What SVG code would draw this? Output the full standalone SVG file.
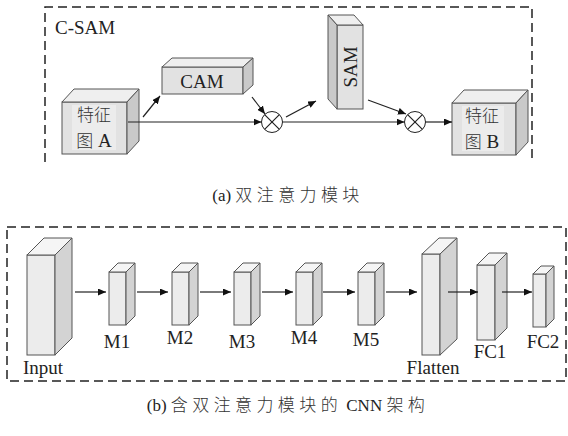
<svg xmlns="http://www.w3.org/2000/svg" width="568" height="436" viewBox="0 0 568 436">
<style>
.dash{fill:none;stroke:#222;stroke-width:1.5;stroke-dasharray:9 5}
.fa{fill:#e2e2e2;stroke:#555;stroke-width:1}
.ta{fill:#efefef;stroke:#555;stroke-width:1}
.sa{fill:#c9c9c9;stroke:#555;stroke-width:1}
.fb{fill:#ececec;stroke:#555;stroke-width:1}
.tb{fill:#f5f5f5;stroke:#555;stroke-width:1}
.sb{fill:#d3d3d3;stroke:#555;stroke-width:1}
.lbl{font-family:"Liberation Serif","Times New Roman",serif;font-size:19px;fill:#222}
.cjk{font-family:"Noto Sans CJK SC","Noto Sans",sans-serif;font-size:17px;font-weight:300;fill:#333}
.cap{font-family:"Liberation Serif",serif;font-size:17px;fill:#222}
.ln{fill:none;stroke:#222;stroke-width:1.2}
.op{fill:#fff;stroke:#222;stroke-width:1}
</style>
<defs>
<marker id="ah" markerUnits="userSpaceOnUse" markerWidth="8" markerHeight="7" refX="8" refY="3.5" orient="auto">
<path d="M0,0 L8,3.5 L0,7 z" fill="#111"/>
</marker>
</defs>

<!-- (a) -->
<path class="dash" d="M45,162 V7 H532 V162"/>
<text class="lbl" x="55" y="34">C-SAM</text>

<g id="featA">
<rect class="fa" x="62" y="102" width="65" height="52"/>
<polygon class="ta" points="62,102 74,89 139,89 127,102"/>
<polygon class="sa" points="127,102 139,89 139,141 127,154"/>
<rect x="72" y="105" width="44" height="45" fill="#ececec"/>
<text class="cjk" x="94" y="121" text-anchor="middle" font-size="18">特征</text>
<text x="94" y="147" text-anchor="middle"><tspan class="cjk" font-size="18">图</tspan><tspan class="lbl"> A</tspan></text>
</g>

<g id="cam">
<rect class="fa" x="162" y="67" width="81" height="27"/>
<polygon class="ta" points="162,67 172,58 253,58 243,67"/>
<polygon class="sa" points="243,67 253,58 253,85 243,94"/>
<text class="lbl" x="202" y="88" text-anchor="middle">CAM</text>
</g>

<g id="sam">
<rect class="fa" x="337" y="25" width="26" height="84" fill="#e8e8e8"/>
<polygon class="ta" points="337,25 328,15 354,15 363,25"/>
<polygon class="sa" points="337,25 328,15 328,99 337,109" fill="#efefef"/>
<text class="lbl" transform="translate(357,67) rotate(-90)" text-anchor="middle">SAM</text>
</g>

<g id="mul1">
<circle class="op" cx="272" cy="122" r="10.5"/>
<path class="ln" stroke-width="0.9" d="M264.6,114.6 L279.4,129.4 M279.4,114.6 L264.6,129.4"/>
</g>
<g id="mul2">
<circle class="op" cx="415" cy="122" r="10.5"/>
<path class="ln" stroke-width="0.9" d="M407.6,114.6 L422.4,129.4 M422.4,114.6 L407.6,129.4"/>
</g>

<g id="featB">
<rect class="fa" x="452" y="103" width="64" height="52"/>
<polygon class="ta" points="452,103 464,90 528,90 516,103"/>
<polygon class="sa" points="516,103 528,90 528,142 516,155"/>
<rect x="462" y="106" width="42" height="45" fill="#ececec"/>
<text class="cjk" x="482" y="122" text-anchor="middle" font-size="18">特征</text>
<text x="482" y="148" text-anchor="middle"><tspan class="cjk" font-size="18">图</tspan><tspan class="lbl"> B</tspan></text>
</g>

<g id="connectors-a">
<line class="ln" x1="128" y1="122" x2="261.5" y2="122" marker-end="url(#ah)"/>
<line class="ln" x1="143" y1="117" x2="160" y2="96" marker-end="url(#ah)"/>
<line class="ln" x1="252" y1="97" x2="265" y2="114" marker-end="url(#ah)"/>
<line class="ln" x1="282.5" y1="122" x2="404.5" y2="122" marker-end="url(#ah)"/>
<line class="ln" x1="286" y1="117" x2="316" y2="101" marker-end="url(#ah)"/>
<line class="ln" x1="368" y1="100" x2="406" y2="114" marker-end="url(#ah)"/>
<line class="ln" x1="425.5" y1="122" x2="452" y2="122" marker-end="url(#ah)"/>
</g>

<text x="288" y="201" text-anchor="middle"><tspan class="cap">(a) </tspan><tspan class="cjk" letter-spacing="4.4">双注意力模块</tspan></text>

<!-- (b) -->
<rect class="dash" x="7" y="227" width="559" height="154"/>

<g id="input">
<rect class="fb" x="27" y="255" width="28" height="100"/>
<polygon class="tb" points="27,255 44,238 72,238 55,255"/>
<polygon class="sb" points="55,255 72,238 72,338 55,355"/>
<text class="lbl" x="43" y="374" text-anchor="middle">Input</text>
</g>

<g id="m1">
<rect class="fb" x="109" y="272" width="17" height="53"/>
<polygon class="tb" points="109,272 118,263 135,263 126,272"/>
<polygon class="sb" points="126,272 135,263 135,316 126,325"/>
<text class="lbl" x="117" y="348" text-anchor="middle">M1</text>
</g>
<g id="m2">
<rect class="fb" x="172" y="272" width="17" height="53"/>
<polygon class="tb" points="172,272 181,263 198,263 189,272"/>
<polygon class="sb" points="189,272 198,263 198,316 189,325"/>
<text class="lbl" x="180" y="344" text-anchor="middle">M2</text>
</g>
<g id="m3">
<rect class="fb" x="234" y="272" width="17" height="53"/>
<polygon class="tb" points="234,272 243,263 260,263 251,272"/>
<polygon class="sb" points="251,272 260,263 260,316 251,325"/>
<text class="lbl" x="242" y="348" text-anchor="middle">M3</text>
</g>
<g id="m4">
<rect class="fb" x="296" y="272" width="17" height="53"/>
<polygon class="tb" points="296,272 305,263 322,263 313,272"/>
<polygon class="sb" points="313,272 322,263 322,316 313,325"/>
<text class="lbl" x="304" y="344" text-anchor="middle">M4</text>
</g>
<g id="m5">
<rect class="fb" x="358" y="272" width="17" height="53"/>
<polygon class="tb" points="358,272 367,263 384,263 375,272"/>
<polygon class="sb" points="375,272 384,263 384,316 375,325"/>
<text class="lbl" x="366" y="346" text-anchor="middle">M5</text>
</g>

<g id="flatten">
<rect class="fb" x="422" y="254" width="18" height="101"/>
<polygon class="tb" points="422,254 439,238 457,238 440,254"/>
<polygon class="sb" points="440,254 457,238 457,339 440,355"/>
<text class="lbl" x="433" y="374" text-anchor="middle">Flatten</text>
</g>
<g id="fc1">
<rect class="fb" x="477" y="265" width="18" height="75"/>
<polygon class="tb" points="477,265 489,253 507,253 495,265"/>
<polygon class="sb" points="495,265 507,253 507,328 495,340"/>
<text class="lbl" x="490" y="358" text-anchor="middle">FC1</text>
</g>
<g id="fc2">
<rect class="fb" x="533" y="274" width="13" height="53"/>
<polygon class="tb" points="533,274 541,266 554,266 546,274"/>
<polygon class="sb" points="546,274 554,266 554,319 546,327"/>
<text class="lbl" x="543" y="348" text-anchor="middle">FC2</text>
</g>

<g id="connectors-b">
<line class="ln" x1="75" y1="292" x2="106" y2="292" marker-end="url(#ah)"/>
<line class="ln" x1="137" y1="292" x2="168" y2="292" marker-end="url(#ah)"/>
<line class="ln" x1="200" y1="292" x2="231" y2="292" marker-end="url(#ah)"/>
<line class="ln" x1="262" y1="292" x2="293" y2="292" marker-end="url(#ah)"/>
<line class="ln" x1="323" y1="292" x2="355" y2="292" marker-end="url(#ah)"/>
<line class="ln" x1="386" y1="292" x2="417" y2="292" marker-end="url(#ah)"/>
<line class="ln" x1="448" y1="292" x2="478" y2="292" marker-end="url(#ah)"/>
<line class="ln" x1="502" y1="292" x2="532" y2="292" marker-end="url(#ah)"/>
</g>

<text x="288" y="411" text-anchor="middle"><tspan class="cap">(b) </tspan><tspan class="cjk" letter-spacing="4.4">含双注意力模块的</tspan><tspan class="cap" font-size="18"> CNN </tspan><tspan class="cjk" letter-spacing="4.4">架构</tspan></text>
</svg>
